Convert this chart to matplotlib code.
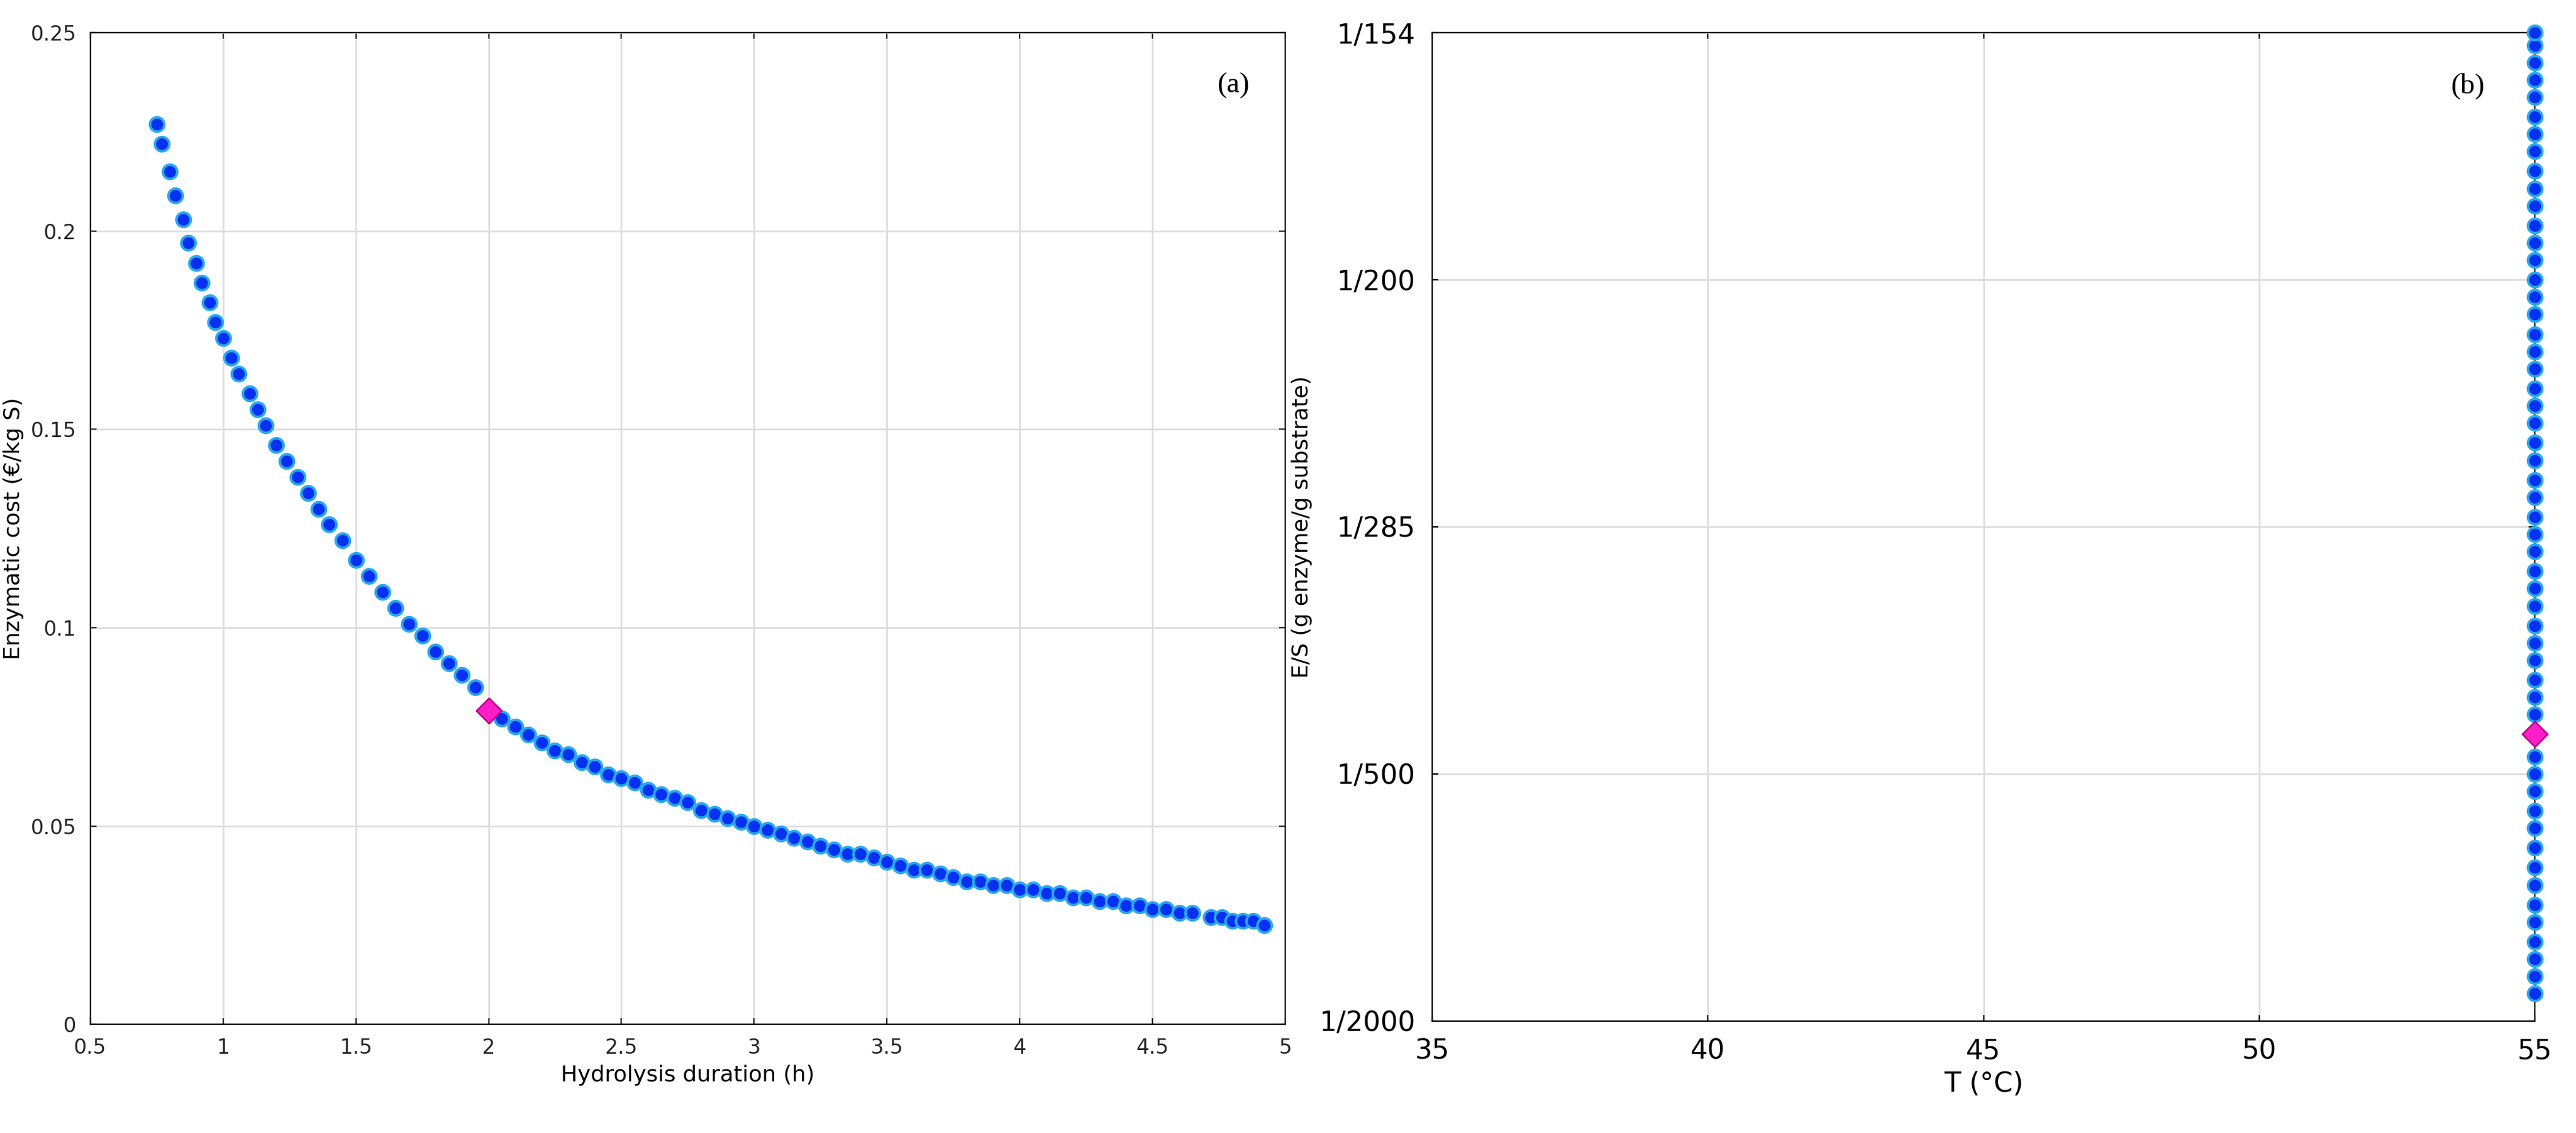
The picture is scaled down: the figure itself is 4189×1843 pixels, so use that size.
import matplotlib.pyplot as plt

# panel (a): hydrolysis duration vs enzymatic cost
duration_h = [0.75, 0.77, 0.8, 0.82, 0.85, 0.87, 0.9, 0.92, 0.95, 0.97, 1.0, 1.03, 1.06, 1.1, 1.13, 1.16,
              1.2, 1.24, 1.28, 1.32, 1.36, 1.4, 1.45, 1.5, 1.55, 1.6, 1.65, 1.7, 1.75, 1.8, 1.85, 1.9,
              1.95, 2.0, 2.05, 2.1, 2.15, 2.2, 2.25, 2.3, 2.35, 2.4, 2.45, 2.5, 2.55, 2.6, 2.65, 2.7,
              2.75, 2.8, 2.85, 2.9, 2.95, 3.0, 3.05, 3.1, 3.15, 3.2, 3.25, 3.3, 3.35, 3.4, 3.45, 3.5,
              3.55, 3.6, 3.65, 3.7, 3.75, 3.8, 3.85, 3.9, 3.95, 4.0, 4.05, 4.1, 4.15, 4.2, 4.25, 4.3,
              4.35, 4.4, 4.45, 4.5, 4.55, 4.6, 4.65, 4.72, 4.76, 4.8, 4.84, 4.88, 4.92]
cost_eur = [0.227, 0.222, 0.215, 0.209, 0.203, 0.197, 0.192, 0.187, 0.182, 0.177, 0.173, 0.168, 0.164, 0.159, 0.155, 0.151,
            0.146, 0.142, 0.138, 0.134, 0.130, 0.126, 0.122, 0.117, 0.113, 0.109, 0.105, 0.101, 0.098, 0.094, 0.091, 0.088,
            0.085, 0.079, 0.077, 0.075, 0.073, 0.071, 0.069, 0.068, 0.066, 0.065, 0.063, 0.062, 0.061, 0.059, 0.058, 0.057,
            0.056, 0.054, 0.053, 0.052, 0.051, 0.050, 0.049, 0.048, 0.047, 0.046, 0.045, 0.044, 0.043, 0.043, 0.042, 0.041,
            0.040, 0.039, 0.039, 0.038, 0.037, 0.036, 0.036, 0.035, 0.035, 0.034, 0.034, 0.033, 0.033, 0.032, 0.032, 0.031,
            0.031, 0.030, 0.030, 0.029, 0.029, 0.028, 0.028, 0.027, 0.027, 0.026, 0.026, 0.026, 0.025]
opt_a = (2.0, 0.079)

# panel (b): temperature vs E/S (category positions of the E/S axis)
es_labels = ['1/2000', '1/500', '1/285', '1/200', '1/154']
temp_c = 55
es_pos = [0.11, 0.18, 0.25, 0.32, 0.40, 0.47, 0.55, 0.62, 0.70, 0.78, 0.85, 0.93, 1.00, 1.07, 1.16, 1.24,
          1.31, 1.38, 1.46, 1.53, 1.60, 1.68, 1.75, 1.82, 1.90, 1.97, 2.04, 2.12, 2.19, 2.27, 2.34, 2.42,
          2.49, 2.56, 2.64, 2.71, 2.78, 2.86, 2.93, 3.00, 3.08, 3.15, 3.22, 3.30, 3.37, 3.44, 3.52, 3.59,
          3.66, 3.74, 3.81, 3.88, 3.95, 4.0]
opt_b = (55, 1.16)

fill = '#0530f0'
edge = '#2aa8ee'
pink = '#ff1ec8'

fig = plt.figure(figsize=(20.945, 9.215), dpi=200)
ax1 = fig.add_axes([0.035, 0.096, 0.464, 0.875])
ax2 = fig.add_axes([0.556, 0.099, 0.428, 0.872])

ax1.scatter(duration_h, cost_eur, s=70, c=fill, edgecolors=edge, linewidths=1.5, zorder=3)
ax1.scatter(*opt_a, s=110, marker='D', c=pink, edgecolors='#c0008a', zorder=4)
ax1.set_xlim(0.5, 5)
ax1.set_ylim(0, 0.25)
ax1.set_xticks([0.5, 1, 1.5, 2, 2.5, 3, 3.5, 4, 4.5, 5])
ax1.set_xticklabels(['0.5', '1', '1.5', '2', '2.5', '3', '3.5', '4', '4.5', '5'])
ax1.set_yticks([0, 0.05, 0.1, 0.15, 0.2, 0.25])
ax1.set_yticklabels(['0', '0.05', '0.1', '0.15', '0.2', '0.25'])
ax1.set_xlabel('Hydrolysis duration (h)', fontsize=13)
ax1.set_ylabel('Enzymatic cost (€/kg S)', fontsize=13)
ax1.tick_params(labelsize=12, direction='in', top=True, right=True, colors='#262626', pad=8)
ax1.grid(True, color='#dddddd', linewidth=1)
ax1.text(0.97, 0.96, '(a)', transform=ax1.transAxes, ha='right', va='top',
         fontsize=17, family='Liberation Serif')

ax2.scatter([temp_c] * len(es_pos), es_pos, s=70, c=fill, edgecolors=edge, linewidths=1.5, zorder=3,
            clip_on=False)
ax2.scatter(*opt_b, s=110, marker='D', c=pink, edgecolors='#c0008a', zorder=4, clip_on=False)
ax2.set_xlim(35, 55)
ax2.set_ylim(0, 4)
ax2.set_xticks([35, 40, 45, 50, 55])
ax2.set_yticks(range(len(es_labels)))
ax2.set_yticklabels(es_labels)
ax2.set_xlabel('T (°C)', fontsize=16)
ax2.set_ylabel('E/S (g enzyme/g substrate)', fontsize=13)
ax2.tick_params(labelsize=16, direction='in', top=True, right=True, pad=10)
ax2.grid(True, color='#dddddd', linewidth=1)
ax2.text(0.955, 0.96, '(b)', transform=ax2.transAxes, ha='right', va='top',
         fontsize=17, family='Liberation Serif')

fig.savefig('out.png')
